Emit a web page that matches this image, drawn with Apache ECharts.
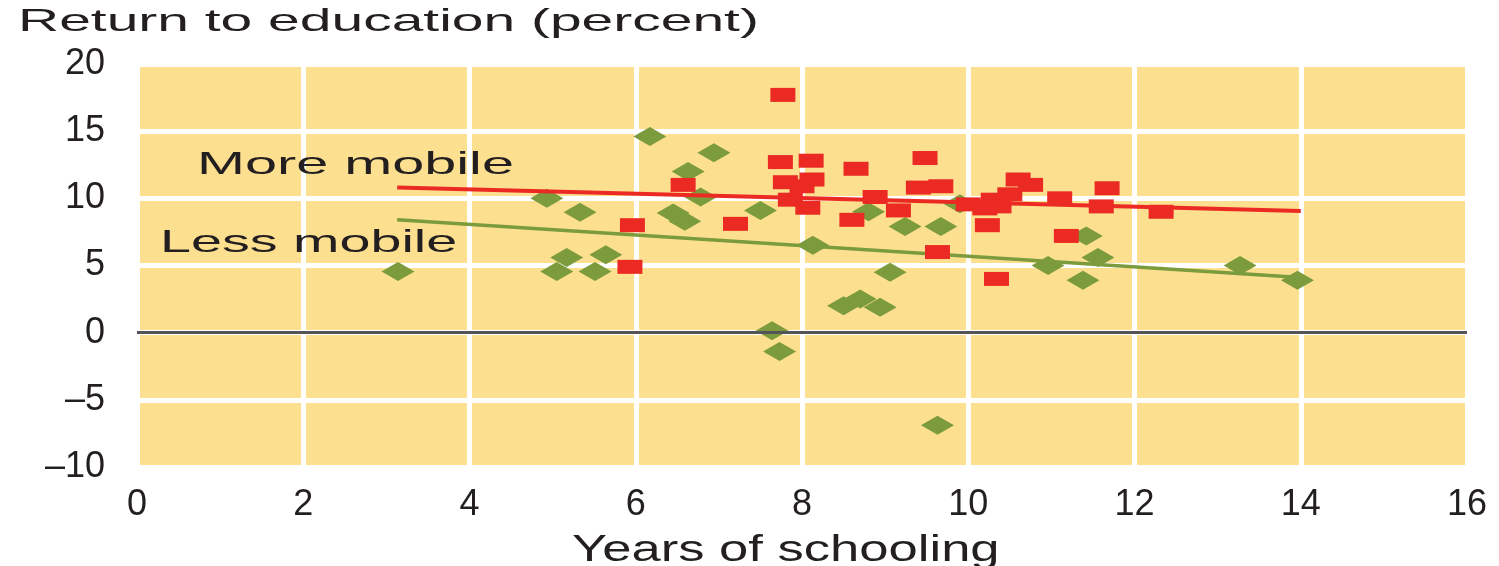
<!DOCTYPE html>
<html><head><meta charset="utf-8">
<script src="https://cdn.jsdelivr.net/npm/echarts@6/dist/echarts.min.js"></script>
<style>html,body{margin:0;padding:0;background:#fff}#c{width:1499px;height:566px}</style>
</head><body><div id="c"></div>
<script>
var xTicks = [0, 2, 4, 6, 8, 10, 12, 14, 16];
var yTicks = [-10, -5, 0, 5, 10, 15, 20];

var lessMobile = [
  [3.14, 4.55], [4.93, 10.0], [5.33, 8.96], [5.17, 5.6], [5.05, 4.55], [5.51, 4.55], [5.64, 5.8],
  [6.17, 14.6], [6.63, 12.0], [6.94, 13.4], [6.45, 8.9], [6.59, 8.3], [6.78, 10.1], [7.5, 9.1],
  [8.13, 6.5], [7.64, 0.15], [7.73, -1.4], [9.63, -6.9], [8.5, 2.0], [8.7, 2.5], [8.94, 1.9],
  [9.06, 4.5], [9.24, 7.9], [9.67, 7.9], [8.8, 9.0], [9.9, 9.6], [10.96, 5.0], [11.42, 7.2],
  [11.56, 5.6], [11.38, 3.9], [13.27, 5.0], [13.96, 3.9]
];
var moreMobile = [
  [7.77, 17.7], [5.96, 8.0], [5.93, 4.9], [6.57, 11.0], [7.2, 8.1], [7.74, 12.7], [8.11, 12.8],
  [7.8, 11.2], [8.0, 10.9], [8.12, 11.4], [7.86, 9.9], [8.07, 9.3], [8.65, 12.2], [8.6, 8.4],
  [8.88, 10.1], [9.16, 9.1], [9.48, 13.0], [9.4, 10.8], [9.67, 10.9], [9.63, 6.0], [10.2, 9.25],
  [10.37, 9.4], [10.3, 9.9], [10.23, 8.0], [10.0, 9.55], [10.5, 10.3], [10.6, 11.4], [10.75, 11.0],
  [11.1, 10.0], [11.18, 7.2], [11.6, 9.4], [11.67, 10.75], [12.32, 9.0], [10.34, 4.0]
];
var lessLine = [[3.13, 8.4], [14.0, 4.1]];
var moreLine = [[3.13, 10.8], [14.0, 9.05]];

var FONT = '"Liberation Sans", Arial, sans-serif';
var chart = echarts.init(document.getElementById('c'));
chart.setOption({
  animation: false,
  grid: { left: 137, right: 32, top: 64, bottom: 99, show: true, backgroundColor: '#FCE08F', borderWidth: 0 },
  xAxis: {
    type: 'value', min: xTicks[0], max: xTicks[xTicks.length - 1], interval: 2,
    axisLine: { show: false }, axisTick: { show: false },
    axisLabel: { fontFamily: FONT, fontSize: 36, color: '#231F20', margin: 20 },
    splitLine: { show: true, lineStyle: { color: '#FFFFFF', width: 5 } }
  },
  yAxis: {
    type: 'value', min: yTicks[0], max: yTicks[yTicks.length - 1], interval: 5,
    axisLine: { show: false }, axisTick: { show: false },
    axisLabel: { fontFamily: FONT, fontSize: 36, color: '#231F20', margin: 32,
      formatter: function (v) { return v < 0 ? '\u2013' + Math.abs(v) : String(v); } },
    splitLine: { show: true, lineStyle: { color: '#FFFFFF', width: 5 } }
  },
  series: [
    { type: 'scatter', data: lessMobile, symbol: 'diamond', symbolSize: [33, 19],
      itemStyle: { color: '#7B9B3D', opacity: 1 }, z: 3,
      markLine: { silent: true, symbol: 'none', label: { show: false },
        lineStyle: { color: '#555557', width: 3, type: 'solid' }, data: [{ yAxis: 0 }] } },
    { type: 'line', data: lessLine, showSymbol: false, lineStyle: { color: '#7B9B3D', width: 3.5 }, z: 4 },
    { type: 'scatter', data: moreMobile, symbol: 'rect', symbolSize: [25, 14],
      itemStyle: { color: '#EC2A24', opacity: 1 }, z: 5 },
    { type: 'line', data: moreLine, showSymbol: false, lineStyle: { color: '#EC2A24', width: 4 }, z: 6 }
  ],
  graphic: [
    { type: 'text', x: 18, y: 22, scaleX: 1.78, z: 100,
      style: { text: 'Return to education (percent)', font: '32px ' + FONT, fill: '#231F20', textVerticalAlign: 'middle' } },
    { type: 'text', x: 197, y: 165, scaleX: 1.8, z: 100,
      style: { text: 'More mobile', font: '32px ' + FONT, fill: '#231F20', textVerticalAlign: 'middle' } },
    { type: 'text', x: 160, y: 243, scaleX: 1.74, z: 100,
      style: { text: 'Less mobile', font: '32px ' + FONT, fill: '#231F20', textVerticalAlign: 'middle' } },
    { type: 'text', x: 572, y: 551, scaleX: 1.46, z: 100,
      style: { text: 'Years of schooling', font: '36px ' + FONT, fill: '#231F20', textVerticalAlign: 'middle' } }
  ]
});
</script></body></html>
